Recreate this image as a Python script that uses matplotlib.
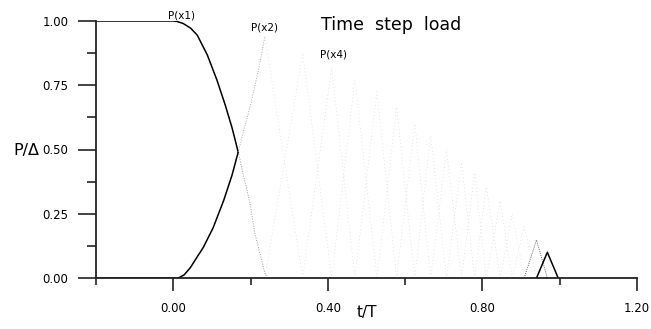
import matplotlib.pyplot as plt
from matplotlib.ticker import FixedLocator

# ======================
# DATA
# ======================
# P(x1): unloading curve at the first station
t_x1 = [-0.2, 0.0, 0.01, 0.026, 0.045, 0.062, 0.088, 0.113, 0.134, 0.152, 0.168,
        0.18, 0.188, 0.20, 0.21, 0.225, 0.237, 0.243]
p_x1 = [1.0, 1.0, 0.998, 0.99, 0.972, 0.945, 0.868, 0.77, 0.675, 0.585, 0.49,
        0.41, 0.36, 0.28, 0.18, 0.09, 0.02, 0.0]

# P(x2): rising branch
t_x2 = [-0.2, 0.0, 0.013, 0.028, 0.044, 0.078, 0.103, 0.13, 0.152, 0.168, 0.183,
        0.196, 0.204, 0.222, 0.237]
p_x2 = [0.0, 0.0, 0.0, 0.012, 0.04, 0.12, 0.195, 0.30, 0.40, 0.49, 0.58,
        0.65, 0.70, 0.82, 0.94]

# peaks of the following pulses P(x2) ... P(xn)
t_peak = [0.237, 0.335, 0.41, 0.47, 0.527, 0.578, 0.625, 0.666, 0.707, 0.746,
          0.78, 0.81, 0.846, 0.877, 0.908, 0.94, 0.968]
p_peak = [0.94, 0.875, 0.82, 0.775, 0.725, 0.665, 0.60, 0.556, 0.50, 0.45,
          0.41, 0.355, 0.30, 0.25, 0.20, 0.148, 0.10]
t_end = 0.996

xticks = [0.0, 0.4, 0.8, 1.2]
xlabels = ['0.00', '0.40', '0.80', '1.20']
yticks = [0.0, 0.25, 0.5, 0.75, 1.0]
ylabels = ['0.00', '0.25', '0.50', '0.75', '1.00']

fig = plt.figure(figsize=(6.51, 3.29), dpi=100)
ax = fig.add_axes([96/651, 51/329, 541/651, 257/329])

# first station and rising part of second
ax.plot(t_x1[:11], p_x1[:11], color='black', lw=1.1)
ax.plot(t_x1[10:], p_x1[10:], color='#999999', lw=0.7, ls=(0, (1, 1.5)))
ax.plot(t_x2[:10], p_x2[:10], color='black', lw=1.1)
ax.plot(t_x2[9:], p_x2[9:], color='#aaaaaa', lw=0.7, ls=(0, (1, 1.5)))

# triangular pulses
n = len(t_peak)
for k in range(n):
    t0 = t_peak[k - 1] if k > 0 else None
    t1 = t_peak[k + 1] if k < n - 1 else t_end
    if k == n - 1:
        ax.plot([t0, t_peak[k], t1], [0, p_peak[k], 0], color='black', lw=1.1)
    elif k == n - 2:
        ax.plot([t0, t_peak[k], t1], [0, p_peak[k], 0], color='#666666', lw=0.7,
                ls=(0, (1, 1.2)))
    elif k == 0:
        ax.plot([t_peak[k], t1], [p_peak[k], 0], color='#cccccc', lw=0.5,
                ls=(0, (1, 4)))
    else:
        ax.plot([t0, t_peak[k], t1], [0, p_peak[k], 0], color='#cccccc', lw=0.5,
                ls=(0, (1, 4)))

# labels
ax.text(0.02, 1.022, 'P(x1)', fontsize=7.5, ha='center', va='center')
ax.text(0.237, 0.973, 'P(x2)', fontsize=7.5, ha='center', va='center')
ax.text(0.415, 0.868, 'P(x4)', fontsize=7.5, ha='center', va='center')
ax.text(0.381, 0.984, 'Time  step  load', fontsize=12.5, ha='left', va='center')

ax.set_xlim(-0.2, 1.2)
ax.set_ylim(0, 1.0)

ax.spines['top'].set_visible(False)
ax.spines['right'].set_visible(False)
for s in ('left', 'bottom'):
    ax.spines[s].set_linewidth(1.3)
    ax.spines[s].set_color('#222222')

ax.xaxis.set_major_locator(FixedLocator(xticks))
ax.xaxis.set_minor_locator(FixedLocator([-0.2, 0.2, 0.6, 1.0]))
ax.yaxis.set_major_locator(FixedLocator(yticks))
ax.yaxis.set_minor_locator(FixedLocator([0.125, 0.375, 0.625, 0.875]))
ax.set_xticklabels(xlabels)
ax.set_yticklabels(ylabels)

ax.tick_params(axis='x', which='major', length=9.5, width=1.2, direction='out',
               labelsize=8.5, pad=8, color='#222222')
ax.tick_params(axis='x', which='minor', length=5, width=1.2, direction='out',
               color='#222222')
ax.tick_params(axis='y', which='major', length=13, width=1.2, direction='out',
               labelsize=8.5, pad=7, color='#222222')
ax.tick_params(axis='y', which='minor', length=6.5, width=1.2, direction='out',
               color='#222222')

fig.text(367/651, 1 - 313/329, 't/T', fontsize=11, ha='center', va='center')
fig.text(26/651, 1 - 150/329, 'P/\u0394', fontsize=11.5, ha='center', va='center')

fig.savefig('out.png', dpi=100)
